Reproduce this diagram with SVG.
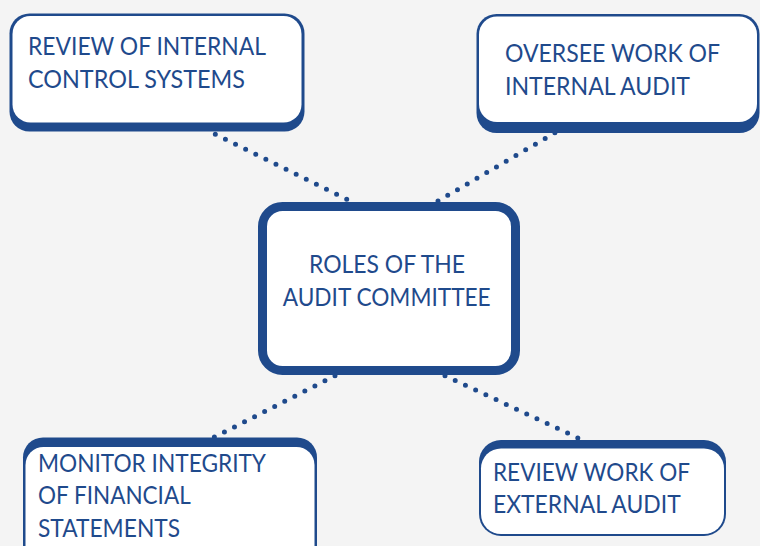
<svg xmlns="http://www.w3.org/2000/svg" width="760" height="546" viewBox="0 0 760 546">
<style>
.dk{fill:#1f4a8c}
.wh{fill:#ffffff}
.t{font-family:Lato,"Open Sans","Liberation Sans",sans-serif;font-size:25px;fill:#1f4a8c;}
.c{fill:none;stroke:#1f4a8c;stroke-width:5;stroke-linecap:round;stroke-dasharray:0 11.28}
</style>
<rect width="760" height="546" fill="#f4f4f4"/>
<g id="connectors">
<line class="c" x1="346.7" y1="199.3" x2="215" y2="134"/>
<line class="c" x1="438" y1="201" x2="555" y2="132.7"/>
<line class="c" x1="335" y1="375.7" x2="214" y2="437.3"/>
<line class="c" x1="445" y1="375.7" x2="578" y2="438"/>
</g>
<g id="n-internal-control">
<rect class="dk" x="9.5" y="13.5" width="295" height="118" rx="20"/>
<rect class="wh" x="12.5" y="16" width="289" height="106.5" rx="18"/>
<text class="t" x="28" y="55" textLength="238" lengthAdjust="spacingAndGlyphs">REVIEW OF INTERNAL</text>
<text class="t" x="28" y="88" textLength="217" lengthAdjust="spacingAndGlyphs">CONTROL SYSTEMS</text>
</g>
<g id="n-internal-audit">
<rect class="dk" x="476.5" y="14" width="283" height="119" rx="20"/>
<rect class="wh" x="479" y="16.5" width="278" height="105.5" rx="18"/>
<text class="t" x="505" y="62" textLength="215" lengthAdjust="spacingAndGlyphs">OVERSEE WORK OF</text>
<text class="t" x="505" y="95" textLength="185" lengthAdjust="spacingAndGlyphs">INTERNAL AUDIT</text>
</g>
<g id="n-center">
<rect x="262.5" y="206.5" width="253" height="164" rx="20" fill="#ffffff" stroke="#1f4a8c" stroke-width="9"/>
<text class="t" x="309" y="272.7" textLength="156" lengthAdjust="spacingAndGlyphs">ROLES OF THE</text>
<text class="t" x="282.7" y="305.7" textLength="208" lengthAdjust="spacingAndGlyphs">AUDIT COMMITTEE</text>
</g>
<g id="n-financial">
<rect class="dk" x="23" y="437.5" width="294" height="130" rx="20"/>
<rect class="wh" x="25.5" y="447" width="289" height="130" rx="18"/>
<text class="t" x="38" y="471.7" textLength="228" lengthAdjust="spacingAndGlyphs">MONITOR INTEGRITY</text>
<text class="t" x="38" y="504" textLength="152.7" lengthAdjust="spacingAndGlyphs">OF FINANCIAL</text>
<text class="t" x="38" y="536.7" textLength="142" lengthAdjust="spacingAndGlyphs">STATEMENTS</text>
</g>
<g id="n-external-audit">
<rect class="dk" x="479" y="440" width="247" height="96" rx="22"/>
<rect class="wh" x="481" y="448.5" width="243" height="85.5" rx="20"/>
<text class="t" x="493" y="481" textLength="197" lengthAdjust="spacingAndGlyphs">REVIEW WORK OF</text>
<text class="t" x="493" y="513" textLength="187.7" lengthAdjust="spacingAndGlyphs">EXTERNAL AUDIT</text>
</g>
</svg>
